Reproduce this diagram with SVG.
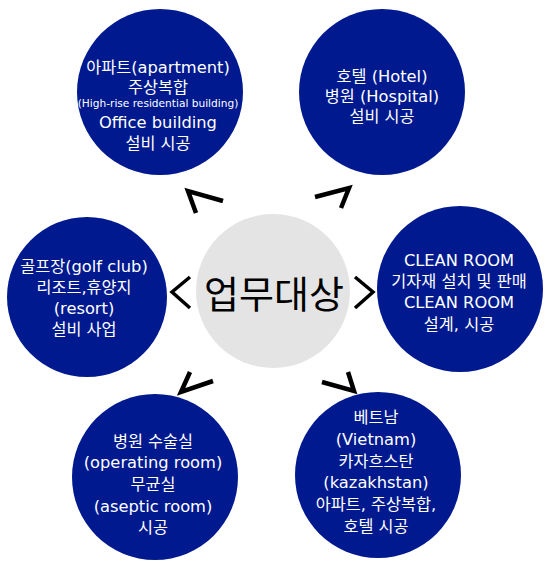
<svg xmlns="http://www.w3.org/2000/svg" width="545" height="577" viewBox="0 0 545 577">
<style>
.node{fill:#00198f;}
.center{fill:#e4e4e4;}
text{font-family:"DejaVu Sans","Noto Sans CJK KR",sans-serif;text-anchor:middle;}
.w{fill:#ffffff;font-size:16.3px;}
.s{font-size:10.6px;}
.big{fill:#000000;font-size:38px;font-family:"Noto Sans CJK KR",sans-serif;}
.chev{fill:none;stroke:#000000;stroke-width:4.5;stroke-linejoin:miter;stroke-linecap:butt;}
</style>
<rect width="545" height="577" fill="#ffffff"/>
<g id="connectors">
<polyline class="chev" points="223,201 188,191 196,213"/>
<polyline class="chev" points="315,197 349,188 341,208"/>
<polyline class="chev" points="190,372 181,392 213,381"/>
<polyline class="chev" points="322,382 354,391 348,372"/>
<polyline class="chev" style="stroke-width:3.5" points="190,277 172,292 190,308"/>
<polyline class="chev" style="stroke-width:3.5" points="355,277 373,292 355,308"/>
</g>
<g id="center">
<circle class="center" cx="273" cy="291" r="77"/>
<text class="big" x="274" y="308">업무대상</text>
</g>
<g id="node-apartment">
<circle class="node" cx="160" cy="92" r="83"/>
<text class="w" x="158" y="73">아파트(apartment)</text>
<text class="w" x="158" y="93">주상복합</text>
<text class="w s" x="158" y="107">(High-rise residential building)</text>
<text class="w" x="158" y="128">Office building</text>
<text class="w" x="158" y="149">설비 시공</text>
</g>
<g id="node-hotel">
<circle class="node" cx="382" cy="92" r="83"/>
<text class="w" x="382" y="82">호텔 (Hotel)</text>
<text class="w" x="382" y="102">병원 (Hospital)</text>
<text class="w" x="382" y="122">설비 시공</text>
</g>
<g id="node-golf">
<circle class="node" cx="87" cy="297" r="80"/>
<text class="w" x="84" y="272">골프장(golf club)</text>
<text class="w" x="84" y="293">리조트,휴양지</text>
<text class="w" x="84" y="314">(resort)</text>
<text class="w" x="84" y="335">설비 사업</text>
</g>
<g id="node-cleanroom">
<circle class="node" cx="460" cy="289" r="83"/>
<text class="w" x="459" y="266">CLEAN ROOM</text>
<text class="w" x="459" y="287">기자재 설치 및 판매</text>
<text class="w" x="459" y="308">CLEAN ROOM</text>
<text class="w" x="459" y="330">설계, 시공</text>
</g>
<g id="node-hospital">
<circle class="node" cx="155" cy="477" r="83"/>
<text class="w" x="153" y="447">병원 수술실</text>
<text class="w" x="153" y="468">(operating room)</text>
<text class="w" x="153" y="490">무균실</text>
<text class="w" x="153" y="512">(aseptic room)</text>
<text class="w" x="153" y="533">시공</text>
</g>
<g id="node-overseas">
<circle class="node" cx="378" cy="475" r="83"/>
<text class="w" x="376" y="423">베트남</text>
<text class="w" x="376" y="445">(Vietnam)</text>
<text class="w" x="376" y="467">카자흐스탄</text>
<text class="w" x="376" y="488">(kazakhstan)</text>
<text class="w" x="376" y="510">아파트, 주상복합,</text>
<text class="w" x="376" y="532">호텔 시공</text>
</g>
</svg>
